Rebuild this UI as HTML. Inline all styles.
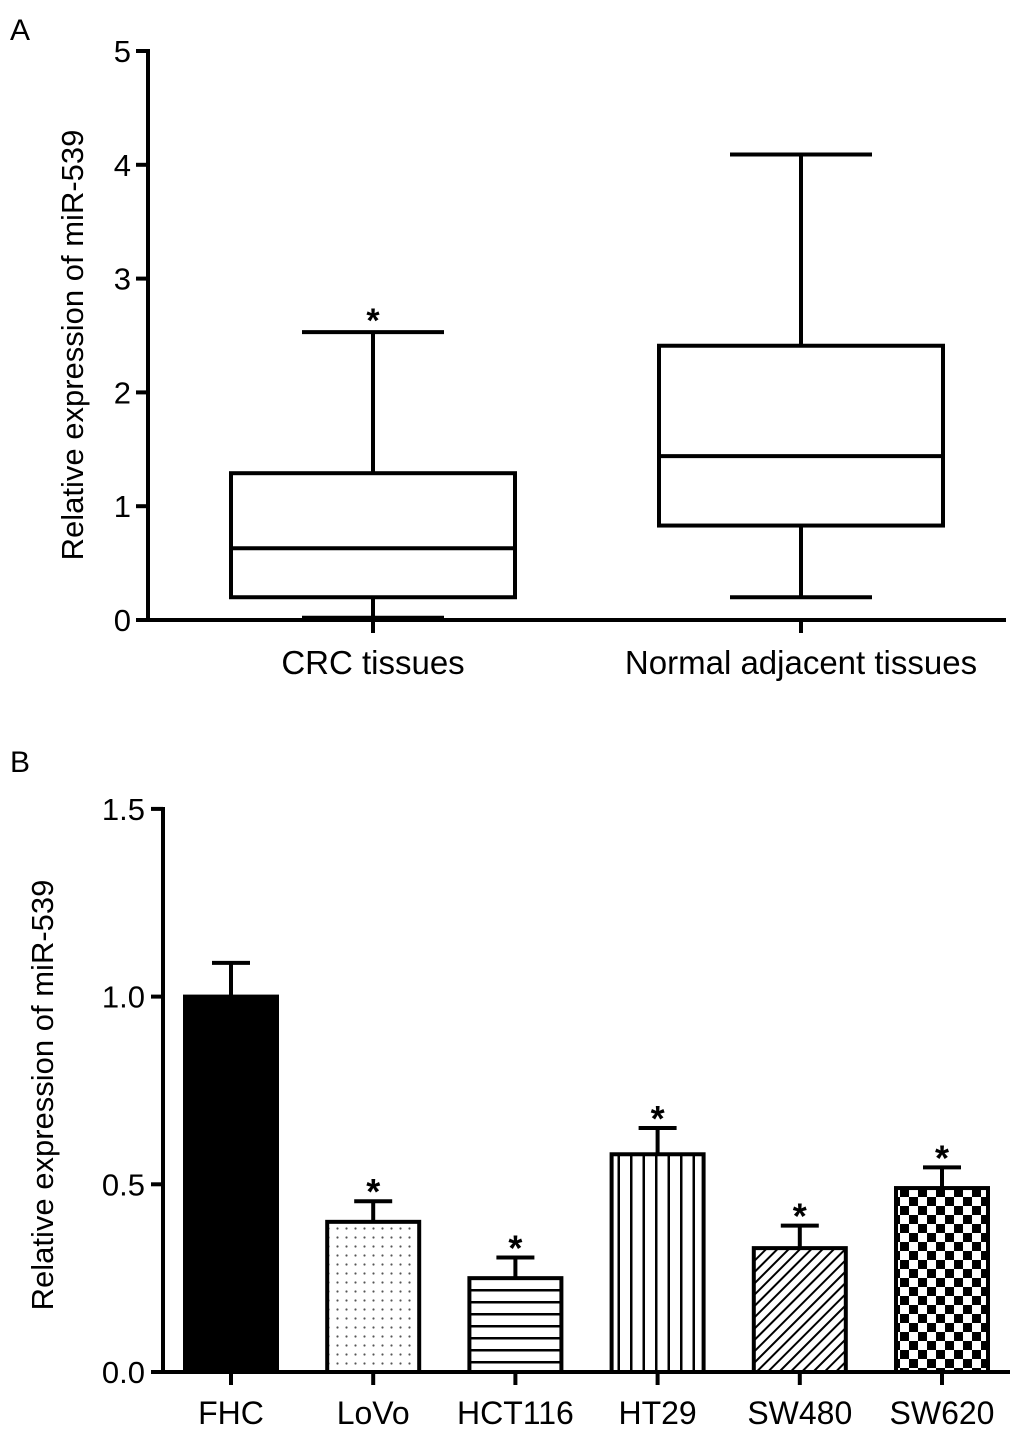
<!DOCTYPE html>
<html><head><meta charset="utf-8"><style>
html,body{margin:0;padding:0;background:#fff}
svg{display:block;font-family:"Liberation Sans",Arial,sans-serif}
</style></head><body>
<svg id="chart" width="1028" height="1441" viewBox="0 0 1028 1441">
<defs>
<pattern id="dots" width="9" height="9" patternUnits="userSpaceOnUse"><circle cx="4.5" cy="4.5" r="1.1" fill="#555"/></pattern>
<pattern id="hlines" width="12" height="12" patternUnits="userSpaceOnUse"><rect x="0" y="5" width="12" height="2.5" fill="#000"/></pattern>
<pattern id="vlines" width="12.5" height="12" patternUnits="userSpaceOnUse"><rect x="5" y="0" width="2.5" height="12" fill="#000"/></pattern>
<pattern id="diag" width="8" height="8" patternUnits="userSpaceOnUse" patternTransform="rotate(45)"><rect x="0" y="0" width="2" height="8" fill="#000"/></pattern>
<pattern id="checker" width="18" height="18" patternUnits="userSpaceOnUse"><rect x="0" y="0" width="9" height="9" fill="#000"/><rect x="9" y="9" width="9" height="9" fill="#000"/></pattern>
</defs>
<text x="10" y="40" style="font-size:30px">A</text>
<text x="10" y="772" style="font-size:30px">B</text>
<g id="pa"></g>
<g id="pb"></g>
</svg>
<script>
const NS="http://www.w3.org/2000/svg";
// Panel A data
const boxCats=["CRC tissues","Normal adjacent tissues"];
const boxMin=[0.02,0.2];
const boxQ1=[0.2,0.83];
const boxMed=[0.63,1.44];
const boxQ3=[1.29,2.41];
const boxMax=[2.53,4.09];
const boxStar=[true,false];
const aTicks=[0,1,2,3,4,5];
// Panel B data
const barCats=["FHC","LoVo","HCT116","HT29","SW480","SW620"];
const barVals=[1.0,0.40,0.25,0.58,0.33,0.49];
const barErr=[0.09,0.055,0.055,0.07,0.06,0.055];
const barStar=[false,true,true,true,true,true];
const bTicks=["0.0","0.5","1.0","1.5"];
const barFills=["#000","url(#dots)","url(#hlines)","url(#vlines)","url(#diag)","url(#checker)"];

function el(tag,attrs,parent){const e=document.createElementNS(NS,tag);for(const k in attrs)e.setAttribute(k,attrs[k]);parent.appendChild(e);return e;}
const LW=4;

// Panel A
const pa=document.getElementById('pa');
const ayA=v=>620-v*113.8;
const axA=i=>[373,801][i];
el('line',{x1:148,y1:49,x2:148,y2:622,stroke:'#000','stroke-width':LW},pa);
el('line',{x1:146,y1:620,x2:1006,y2:620,stroke:'#000','stroke-width':LW},pa);
aTicks.forEach(t=>{
  const y=ayA(t);
  const tk=el('line',{x1:136,y1:y,x2:148,y2:y,stroke:'#000','stroke-width':LW},pa);
  
  const tx=el('text',{x:131,y:y+11,style:'font-size:31px','text-anchor':'end'},pa);tx.textContent=t;
  
});
const yt=el('text',{x:0,y:0,style:'font-size:31px','text-anchor':'middle',transform:'translate(83,345) rotate(-90)'},pa);
yt.textContent='Relative expression of miR-539';

boxCats.forEach((c,i)=>{
  const cx=axA(i);
  const g=el('g',{},pa);
  
  el('line',{x1:cx,y1:620,x2:cx,y2:633,stroke:'#000','stroke-width':LW},g);
  el('line',{x1:cx,y1:ayA(boxMax[i]),x2:cx,y2:ayA(boxQ3[i]),stroke:'#000','stroke-width':LW},g);
  el('line',{x1:cx,y1:ayA(boxQ1[i]),x2:cx,y2:ayA(boxMin[i]),stroke:'#000','stroke-width':LW},g);
  el('line',{x1:cx-71,y1:ayA(boxMax[i]),x2:cx+71,y2:ayA(boxMax[i]),stroke:'#000','stroke-width':LW},g);
  el('line',{x1:cx-71,y1:ayA(boxMin[i]),x2:cx+71,y2:ayA(boxMin[i]),stroke:'#000','stroke-width':LW},g);
  el('rect',{x:cx-142,y:ayA(boxQ3[i]),width:284,height:ayA(boxQ1[i])-ayA(boxQ3[i]),fill:'#fff',stroke:'#000','stroke-width':LW},g);
  el('line',{x1:cx-142,y1:ayA(boxMed[i]),x2:cx+142,y2:ayA(boxMed[i]),stroke:'#000','stroke-width':LW},g);
  if(boxStar[i]){const s=el('text',{x:cx,y:ayA(boxMax[i]),style:'font-size:34px;font-weight:bold','text-anchor':'middle'},g);s.textContent='*';}
  const l=el('text',{x:cx,y:674,style:'font-size:33px','text-anchor':'middle'},pa);l.textContent=c;
  
});

// Panel B
const pb=document.getElementById('pb');
const ayB=v=>1372-v*375.4;
const axB=i=>231+i*142.2;
el('line',{x1:163,y1:807,x2:163,y2:1374,stroke:'#000','stroke-width':LW},pb);
el('line',{x1:161,y1:1372,x2:1010,y2:1372,stroke:'#000','stroke-width':LW},pb);
bTicks.forEach(t=>{
  const y=ayB(parseFloat(t));
  const tk=el('line',{x1:151,y1:y,x2:163,y2:y,stroke:'#000','stroke-width':LW},pb);
  
  const tx=el('text',{x:145,y:y+11,style:'font-size:31px','text-anchor':'end'},pb);tx.textContent=t;
  
});
const yt2=el('text',{x:0,y:0,style:'font-size:31px','text-anchor':'middle',transform:'translate(53,1095) rotate(-90)'},pb);
yt2.textContent='Relative expression of miR-539';

barCats.forEach((c,i)=>{
  const cx=axB(i);const top=ayB(barVals[i]);const et=ayB(barVals[i]+barErr[i]);
  const g=el('g',{},pb);
  
  el('line',{x1:cx,y1:1372,x2:cx,y2:1385,stroke:'#000','stroke-width':LW},g);
  el('line',{x1:cx,y1:top,x2:cx,y2:et,stroke:'#000','stroke-width':LW},g);
  el('line',{x1:cx-19,y1:et,x2:cx+19,y2:et,stroke:'#000','stroke-width':LW},g);
  el('rect',{x:cx-46,y:top,width:92,height:1372-top,fill:'#fff',stroke:'none'},g);
  el('rect',{x:cx-46,y:top,width:92,height:1372-top,fill:barFills[i],stroke:'#000','stroke-width':LW},g);
  if(barStar[i]){const s=el('text',{x:cx,y:et+3,style:'font-size:36px;font-weight:bold','text-anchor':'middle'},g);s.textContent='*';}
  const l=el('text',{x:cx,y:1424,style:'font-size:32px','text-anchor':'middle'},pb);l.textContent=c;
  
});
</script>
</body></html>
